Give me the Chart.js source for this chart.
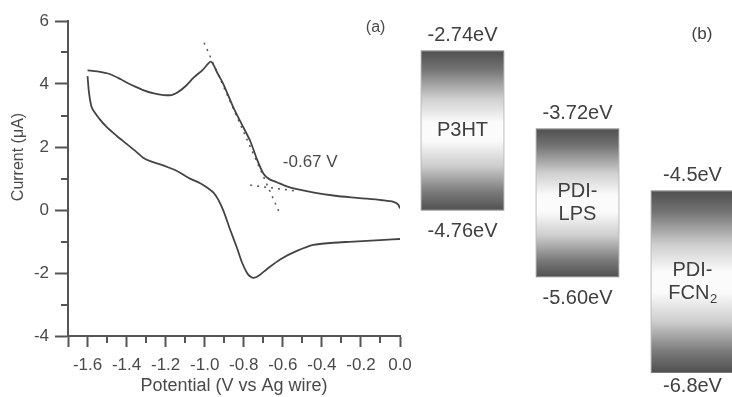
<!DOCTYPE html>
<html><head><meta charset="utf-8">
<script src="https://cdn.jsdelivr.net/npm/chart.js@4.4.0/dist/chart.umd.min.js"></script>
<style>
html,body{margin:0;padding:0;background:#fff;width:732px;height:397px;overflow:hidden;position:relative}
#cv{position:absolute;left:0;top:0}
#el{position:absolute;left:405px;top:0}
</style></head><body>
<canvas id="cv" width="420" height="397"></canvas>
<canvas id="el" width="345" height="397"></canvas>
<script>
// ---- Panel (a): cyclic voltammogram ----
const forwardPotential = [-1.600,-1.550,-1.484,-1.430,-1.398,-1.350,-1.312,-1.260,-1.211,-1.170,-1.142,-1.100,-1.057,-1.010,-0.968,-0.935,-0.904,-0.853,-0.810,-0.767,-0.733,-0.699,-0.670,-0.631,-0.580,-0.528,-0.440,-0.341,-0.250,-0.170,-0.090,-0.034,-0.010,0.000];
const forwardCurrent   = [4.43,4.40,4.31,4.15,4.04,3.90,3.80,3.70,3.65,3.65,3.72,3.92,4.20,4.45,4.71,4.35,3.99,3.25,2.72,2.19,1.62,1.15,0.98,0.88,0.75,0.66,0.55,0.46,0.40,0.36,0.31,0.26,0.18,0.05];
const reversePotential = [0.000,-0.080,-0.170,-0.260,-0.341,-0.443,-0.528,-0.614,-0.682,-0.720,-0.745,-0.765,-0.784,-0.810,-0.835,-0.870,-0.904,-0.930,-0.955,-0.990,-1.023,-1.070,-1.142,-1.185,-1.228,-1.279,-1.313,-1.360,-1.398,-1.450,-1.500,-1.540,-1.578,-1.592,-1.600];
const reverseCurrent   = [-0.92,-0.95,-0.98,-1.01,-1.04,-1.11,-1.30,-1.57,-1.88,-2.07,-2.15,-2.12,-1.99,-1.65,-1.20,-0.62,-0.03,0.32,0.55,0.72,0.85,0.98,1.24,1.35,1.45,1.55,1.65,1.90,2.09,2.35,2.62,2.90,3.25,3.70,4.25];
const tangentSteepPotential = [-1.003,-0.617];
const tangentSteepCurrent   = [5.31,-0.09];
const tangentBasePotential  = [-0.767,-0.528];
const tangentBaseCurrent    = [0.79,0.60];
const onsetLabel = '-0.67 V';
const xTickValues = [-1.7,-1.6,-1.4,-1.2,-1.0,-0.8,-0.6,-0.4,-0.2,0.0];
const yTickValues = [-4,-2,0,2,4,6];

// ---- Panel (b): energy levels ----
const materials   = ['P3HT','PDI-LPS','PDI-FCN2'];
const lumoLevels  = [-2.74,-3.72,-4.5];
const homoLevels  = [-4.76,-5.60,-6.8];
const lumoLabels  = ['-2.74eV','-3.72eV','-4.5eV'];
const homoLabels  = ['-4.76eV','-5.60eV','-6.8eV'];
const materialLines = [['P3HT'],['PDI-','LPS'],['PDI-','FCN\u2082']];

const AXIS = '#555555';
const TEXT = '#4a4a4a';
const FONT = '"Liberation Sans", Arial, sans-serif';

function pts(xs, ys){ return xs.map((v,i)=>({x:v,y:ys[i]})); }

const cvExtras = {
  id:'cvExtras',
  afterDraw(chart){
    const {ctx, scales:{x,y}} = chart;
    ctx.save();
    ctx.strokeStyle = AXIS; ctx.lineWidth = 2;
    for (let v=-1.5; v<0; v+=0.2){
      const px = Math.round(x.getPixelForValue(v));
      ctx.beginPath(); ctx.moveTo(px, y.bottom); ctx.lineTo(px, y.bottom+7); ctx.stroke();
    }
    for (let v=-3; v<6; v+=2){
      const py = Math.round(y.getPixelForValue(v));
      ctx.beginPath(); ctx.moveTo(x.left, py); ctx.lineTo(x.left-7, py); ctx.stroke();
    }
    ctx.fillStyle = TEXT;
    ctx.font = '16px ' + FONT;
    ctx.textAlign = 'center'; ctx.textBaseline = 'middle';
    ctx.save(); ctx.translate(19, 157); ctx.rotate(-Math.PI/2);
    ctx.fillText('Current (\u03bcA)', 0, 0); ctx.restore();
    ctx.font = '16px ' + FONT;
    ctx.fillText('(a)', x.getPixelForValue(-0.125), y.getPixelForValue(5.8));
    ctx.textAlign = 'left';
    ctx.font = '17px ' + FONT;
    ctx.fillText(onsetLabel, x.getPixelForValue(-0.600), y.getPixelForValue(1.5));
    ctx.restore();
  }
};

new Chart(document.getElementById('cv'), {
  type:'scatter',
  data:{ datasets:[
    {data:pts(forwardPotential, forwardCurrent), showLine:true, borderColor:'#444', borderWidth:1.8, pointRadius:0, tension:0.25},
    {data:pts(reversePotential, reverseCurrent), showLine:true, borderColor:'#444', borderWidth:1.8, pointRadius:0, tension:0.25},
    {data:pts(tangentSteepPotential, tangentSteepCurrent), showLine:true, borderColor:'#555', borderWidth:1.5, borderDash:[2,5], pointRadius:0},
    {data:pts(tangentBasePotential, tangentBaseCurrent), showLine:true, borderColor:'#555', borderWidth:1.5, borderDash:[2,5], pointRadius:0}
  ]},
  options:{
    responsive:false, animation:false, devicePixelRatio:1,
    layout:{padding:{left:0, top:21, right:20, bottom:0}},
    plugins:{legend:{display:false}, tooltip:{enabled:false}},
    scales:{
      x:{type:'linear', min:-1.7, max:0,
        afterFit(s){ s.height = 61; },
        afterBuildTicks(s){ s.ticks = xTickValues.map(v=>({value:v})); },
        grid:{drawOnChartArea:false, tickLength:11, tickWidth:2, tickColor:AXIS},
        border:{display:true, color:AXIS, width:2},
        ticks:{autoSkip:false, maxRotation:0, padding:8, color:TEXT, font:{family:FONT, size:17},
          callback:(v)=> Math.abs(v+1.7)<1e-6 ? '' : Number(v).toFixed(1)},
        title:{display:true, text:'Potential (V vs Ag wire)', color:TEXT, font:{family:FONT, size:18}, padding:{top:0,bottom:0}}
      },
      y:{type:'linear', min:-4, max:6,
        afterFit(s){ s.width = 68; },
        afterBuildTicks(s){ s.ticks = yTickValues.map(v=>({value:v})); },
        grid:{drawOnChartArea:false, tickLength:13, tickWidth:2, tickColor:AXIS},
        border:{display:true, color:AXIS, width:2},
        ticks:{padding:6, color:TEXT, font:{family:FONT, size:17}}
      }
    }
  },
  plugins:[cvExtras]
});

// ---- Panel (b) chart ----
function barGradient(ctx){
  const chart = ctx.chart;
  if (!chart.chartArea || ctx.type !== 'data') return '#bbb';
  const ys = chart.scales.y;
  const r = ctx.raw;
  const top = ys.getPixelForValue(Math.max(r[0], r[1]));
  const bot = ys.getPixelForValue(Math.min(r[0], r[1]));
  const g = chart.ctx.createLinearGradient(0, top, 0, bot);
  g.addColorStop(0, '#4e4e4e');
  g.addColorStop(0.12, '#747474');
  g.addColorStop(0.3, '#cfcfcf');
  g.addColorStop(0.45, '#fbfbfb');
  g.addColorStop(0.56, '#fbfbfb');
  g.addColorStop(0.72, '#cdcdcd');
  g.addColorStop(0.88, '#7c7c7c');
  g.addColorStop(1, '#4e4e4e');
  return g;
}

const levelLabels = {
  id:'levelLabels',
  afterDatasetsDraw(chart){
    const {ctx} = chart;
    const meta = chart.getDatasetMeta(0);
    ctx.save();
    ctx.fillStyle = '#404040';
    ctx.textAlign = 'center'; ctx.textBaseline = 'middle';
    meta.data.forEach((bar, i)=>{
      const top = Math.min(bar.y, bar.base), bot = Math.max(bar.y, bar.base);
      ctx.font = '20px ' + FONT;
      ctx.fillText(lumoLabels[i], bar.x, top - 15);
      ctx.fillText(homoLabels[i], bar.x, Math.min(bot + 21, chart.height - 11));
      const lines = materialLines[i];
      const mid = (top + bot) / 2;
      const lh = 23;
      lines.forEach((ln, k)=>{
        const yy = mid + (k - (lines.length-1)/2) * lh;
        const sub = ln.indexOf('\u2082');
        if (sub < 0) { ctx.font = '20px ' + FONT; ctx.fillText(ln, bar.x, yy); }
        else {
          const main = ln.slice(0, sub);
          ctx.font = '20px ' + FONT; const w1 = ctx.measureText(main).width;
          ctx.font = '13px ' + FONT; const w2 = ctx.measureText('2').width;
          const x0 = bar.x - (w1 + w2) / 2;
          ctx.textAlign = 'left';
          ctx.font = '20px ' + FONT; ctx.fillText(main, x0, yy);
          ctx.font = '13px ' + FONT; ctx.fillText('2', x0 + w1 + 0.5, yy + 6);
          ctx.textAlign = 'center';
        }
      });
    });
    ctx.font = '17px ' + FONT;
    ctx.fillText('(b)', 297, 34);
    ctx.restore();
  }
};

new Chart(document.getElementById('el'), {
  type:'bar',
  data:{ labels:materials, datasets:[{
    data: materials.map((m,i)=>[homoLevels[i], lumoLevels[i]]),
    backgroundColor: barGradient,
    borderColor:'#7a7a7a', borderWidth:1, borderSkipped:false,
    barPercentage:0.73, categoryPercentage:1
  }]},
  options:{
    responsive:false, animation:false, devicePixelRatio:1,
    layout:{padding:0},
    plugins:{legend:{display:false}, tooltip:{enabled:false}},
    scales:{
      x:{display:false, offset:true},
      y:{display:false, min:-7.102, max:-2.108}
    }
  },
  plugins:[levelLabels]
});
</script>
</body></html>
